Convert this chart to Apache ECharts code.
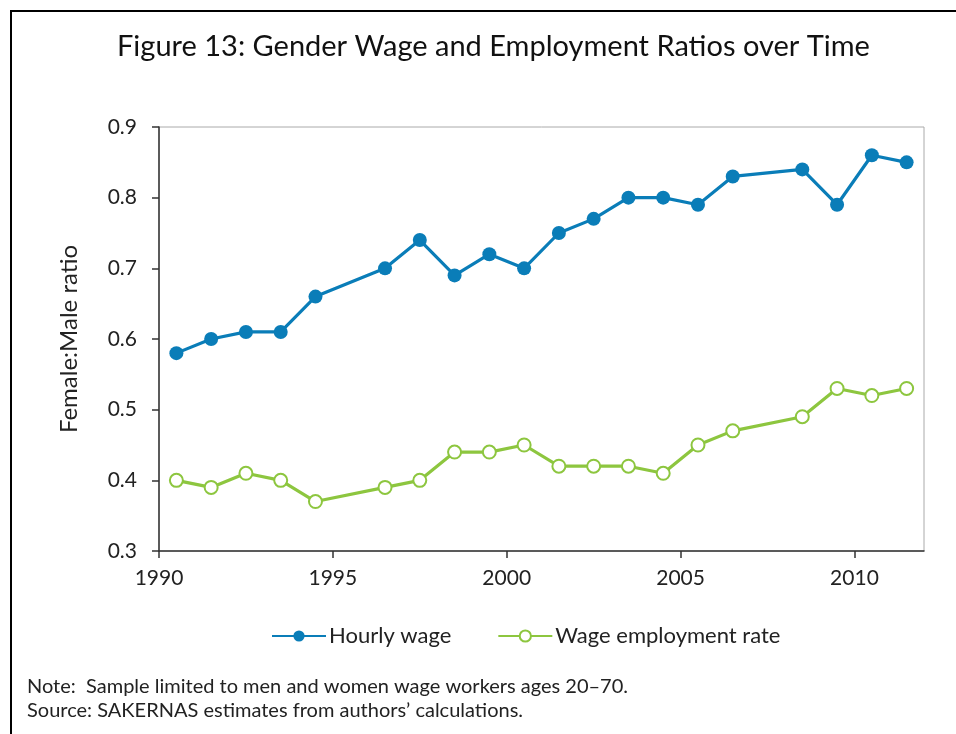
<!DOCTYPE html>
<html>
<head>
<meta charset="utf-8">
<script src="https://cdn.jsdelivr.net/npm/echarts@6/dist/echarts.min.js"></script>
<style>
html,body{margin:0;padding:0;background:#fff;}
#c{width:956px;height:734px;}
</style>
</head>
<body>
<div id="c"></div>
<script>
// Survey years (points plotted at mid-year)
const years = [1990, 1991, 1992, 1993, 1994, 1996, 1997, 1998, 1999, 2000, 2001, 2002, 2003, 2004, 2005, 2006, 2008, 2009, 2010, 2011];
const hourlyWage = [0.58, 0.60, 0.61, 0.61, 0.66, 0.70, 0.74, 0.69, 0.72, 0.70, 0.75, 0.77, 0.80, 0.80, 0.79, 0.83, 0.84, 0.79, 0.86, 0.85];
const wageEmployment = [0.40, 0.39, 0.41, 0.40, 0.37, 0.39, 0.40, 0.44, 0.44, 0.45, 0.42, 0.42, 0.42, 0.41, 0.45, 0.47, 0.49, 0.53, 0.52, 0.53];
const xTicks = [1990, 1995, 2000, 2005, 2010];
const seriesNames = ['Hourly wage', 'Wage employment rate'];

const FONT = 'Lato, "Open Sans", sans-serif';
const toPairs = vals => vals.map((v, i) => [years[i] + 0.5, v]);

const chart = echarts.init(document.getElementById('c'), null, {renderer: 'canvas'});
chart.setOption({
  animation: false,
  textStyle: {fontFamily: FONT},
  title: {
    text: 'Figure 13: Gender Wage and Employment Ratios over Time',
    left: 112, top: 27,
    textStyle: {fontFamily: FONT, fontSize: 29, fontWeight: 'normal', color: '#111'}
  },
  graphic: [
    {type: 'rect', shape: {x: 11, y: 11, width: 1000, height: 800}, style: {fill: 'none', stroke: '#000', lineWidth: 2}, silent: true},
    {type: 'text', left: 27, top: 677, style: {text: 'Note:  Sample limited to men and women wage workers ages 20\u201370.', font: '20px ' + FONT, fill: '#222'}},
    {type: 'text', left: 27, top: 701, style: {text: 'Source: SAKERNAS estimates from authors\u2019 calculations.', font: '20px ' + FONT, fill: '#222'}}
  ],
  legend: {
    data: seriesNames,
    top: 620, left: 266,
    itemWidth: 54, itemHeight: 14, itemGap: 46,
    textStyle: {fontFamily: FONT, fontSize: 22, color: '#222', padding: [0, 0, 0, -2]}
  },
  grid: {
    left: 159, right: 32, top: 127, bottom: 183,
    show: true, borderColor: '#aaa', borderWidth: 1, backgroundColor: 'transparent'
  },
  xAxis: {
    type: 'value', min: 1990, max: 2012, interval: 5,
    axisLine: {show: true, lineStyle: {color: '#333', width: 1.5}},
    axisTick: {show: true, length: 7, lineStyle: {color: '#333', width: 1.5}, customValues: xTicks},
    axisLabel: {customValues: xTicks, formatter: v => String(v), fontSize: 21, color: '#222', margin: 17, fontFamily: FONT},
    splitLine: {show: false}
  },
  yAxis: {
    type: 'value', min: 0.3, max: 0.9, interval: 0.1,
    name: 'Female:Male ratio', nameLocation: 'middle', nameGap: 78, nameRotate: 90,
    nameTextStyle: {fontSize: 24, color: '#222', fontFamily: FONT},
    axisLine: {show: true, lineStyle: {color: '#333', width: 1.5}},
    axisTick: {show: true, length: 7, lineStyle: {color: '#333', width: 1.5}},
    axisLabel: {formatter: v => v.toFixed(1), fontSize: 21, color: '#222', margin: 22, fontFamily: FONT},
    splitLine: {show: false}
  },
  series: [
    {
      name: seriesNames[0], type: 'line', data: toPairs(hourlyWage),
      symbol: 'circle', symbolSize: 14,
      lineStyle: {color: '#0A7DB8', width: 3.2},
      itemStyle: {color: '#0A7DB8', borderWidth: 0},
      z: 3
    },
    {
      name: seriesNames[1], type: 'line', data: toPairs(wageEmployment),
      symbol: 'emptyCircle', symbolSize: 13,
      lineStyle: {color: '#8DC63F', width: 3.2},
      itemStyle: {color: '#8DC63F', borderColor: '#8DC63F', borderWidth: 2},
      z: 3
    }
  ]
});
</script>
</body>
</html>
